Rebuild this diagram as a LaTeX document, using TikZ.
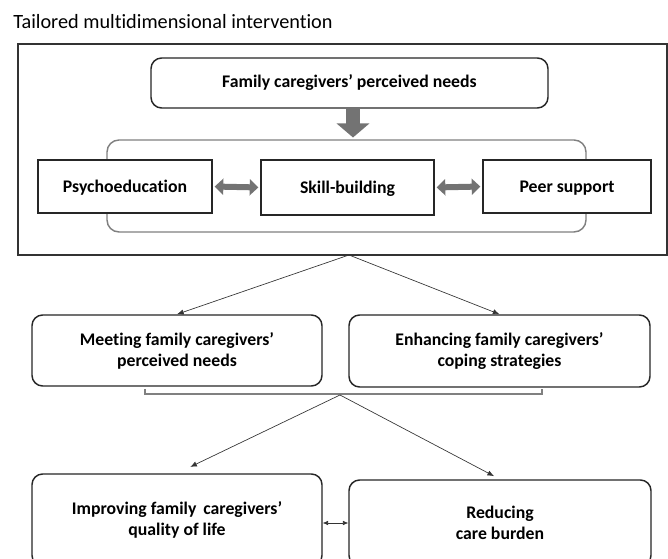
\documentclass[tikz,border=0pt]{standalone}
\usepackage{fontspec}
\setmainfont{Carlito}[Ligatures=NoCommon]
\usetikzlibrary{arrows.meta,positioning}

\tikzset{
  roundbox/.style={draw=black!85, line width=1.1pt, rounded corners=8pt, fill=white,
    align=center, font=\bfseries\fontsize{13.3}{15.75}\selectfont},
  plainbox/.style={draw=black!85, line width=1pt, fill=white, text height=2.3ex, text depth=.4ex,
    font=\bfseries\fontsize{13.3}{15.75}\selectfont},
  downarrow/.style={draw=black!55, line width=10.5pt, -{Triangle[length=10.5pt,width=24pt]}},
  fatarrow/.style={draw=black!55, line width=4.5pt,
    {Triangle[length=6.5pt,width=12pt]}-{Triangle[length=6.5pt,width=12pt]}, shorten <=1.5pt, shorten >=1.5pt},
  thinarrow/.style={draw=black!80, line width=0.5pt, -{Latex[length=5pt,width=4pt]}},
}

\begin{document}
\begin{tikzpicture}[x=0.75pt,y=-0.75pt]
    \useasboundingbox (0,0) rectangle (668,559);
    \clip (0,0) rectangle (668,559);

    % title and outer frame
    \node[anchor=west, inner sep=0pt, font=\fontsize{15.2}{18}\selectfont] (title) at (13,22) {Tailored multidimensional intervention};
    \node[draw=black!80, line width=0.8pt, minimum width=486.75pt, minimum height=158.25pt] (frame) at (342.5,149.5) {};

    % intervention components
    \node[roundbox, minimum width=297.75pt, minimum height=37.5pt] (needs) at (349.5,83) {Family caregivers’ perceived needs};
    \node[draw=black!50, line width=1.1pt, rounded corners=9pt, minimum width=359.25pt, minimum height=69pt] (kit) at (346.5,186) {};
    \node[plainbox, minimum width=130.5pt, minimum height=39.75pt] (psycho) at (125,186.5) {Psychoeducation};
    \node[plainbox, minimum width=129.75pt, minimum height=41.25pt] (skill) at (347.5,187.5) {Skill-building};
    \node[plainbox, minimum width=126pt, minimum height=39.75pt] (peer) at (567,186.5) {Peer support};

    \draw[downarrow] (353,109.5) -- (353,137.5);
    \draw[fatarrow] (psycho.east) -- (skill.west);
    \draw[fatarrow] (skill.east) -- (peer.west);

    % mechanisms
    \coordinate (split) at (349,255);
    \node[roundbox, minimum width=217.5pt, minimum height=53.25pt] (meet) at (177,350.5) {Meeting family caregivers’\\perceived needs};
    \node[roundbox, minimum width=225.75pt, minimum height=54pt] (cope) at (499.5,351) {Enhancing family caregivers’\\coping strategies};
    \draw[thinarrow] (split) -- (meet.north);
    \draw[thinarrow] (split) -- (cope.north);

    \draw[draw=black!50, line width=1.3pt] (145,389) -- (145,394) -- (542,394) -- (542,389);
    \coordinate (join) at (340,395);

    % outcomes
    \node[roundbox, minimum width=217.5pt, minimum height=69pt] (qol) at (177,520) {Improving family\, caregivers’\\quality of life};
    \node[roundbox, minimum width=226.5pt, minimum height=64.5pt] (burden) at (500,523) {Reducing\\care burden};
    \draw[thinarrow, shorten >=11pt] (join) -- (qol.north);
    \draw[thinarrow, shorten >=5pt] (join) -- (burden.north);
    \draw[thinarrow, {Latex[length=4pt,width=3.5pt]}-{Latex[length=4pt,width=3.5pt]}] (qol.east|-burden.west) -- (burden.west);
\end{tikzpicture}
\end{document}
